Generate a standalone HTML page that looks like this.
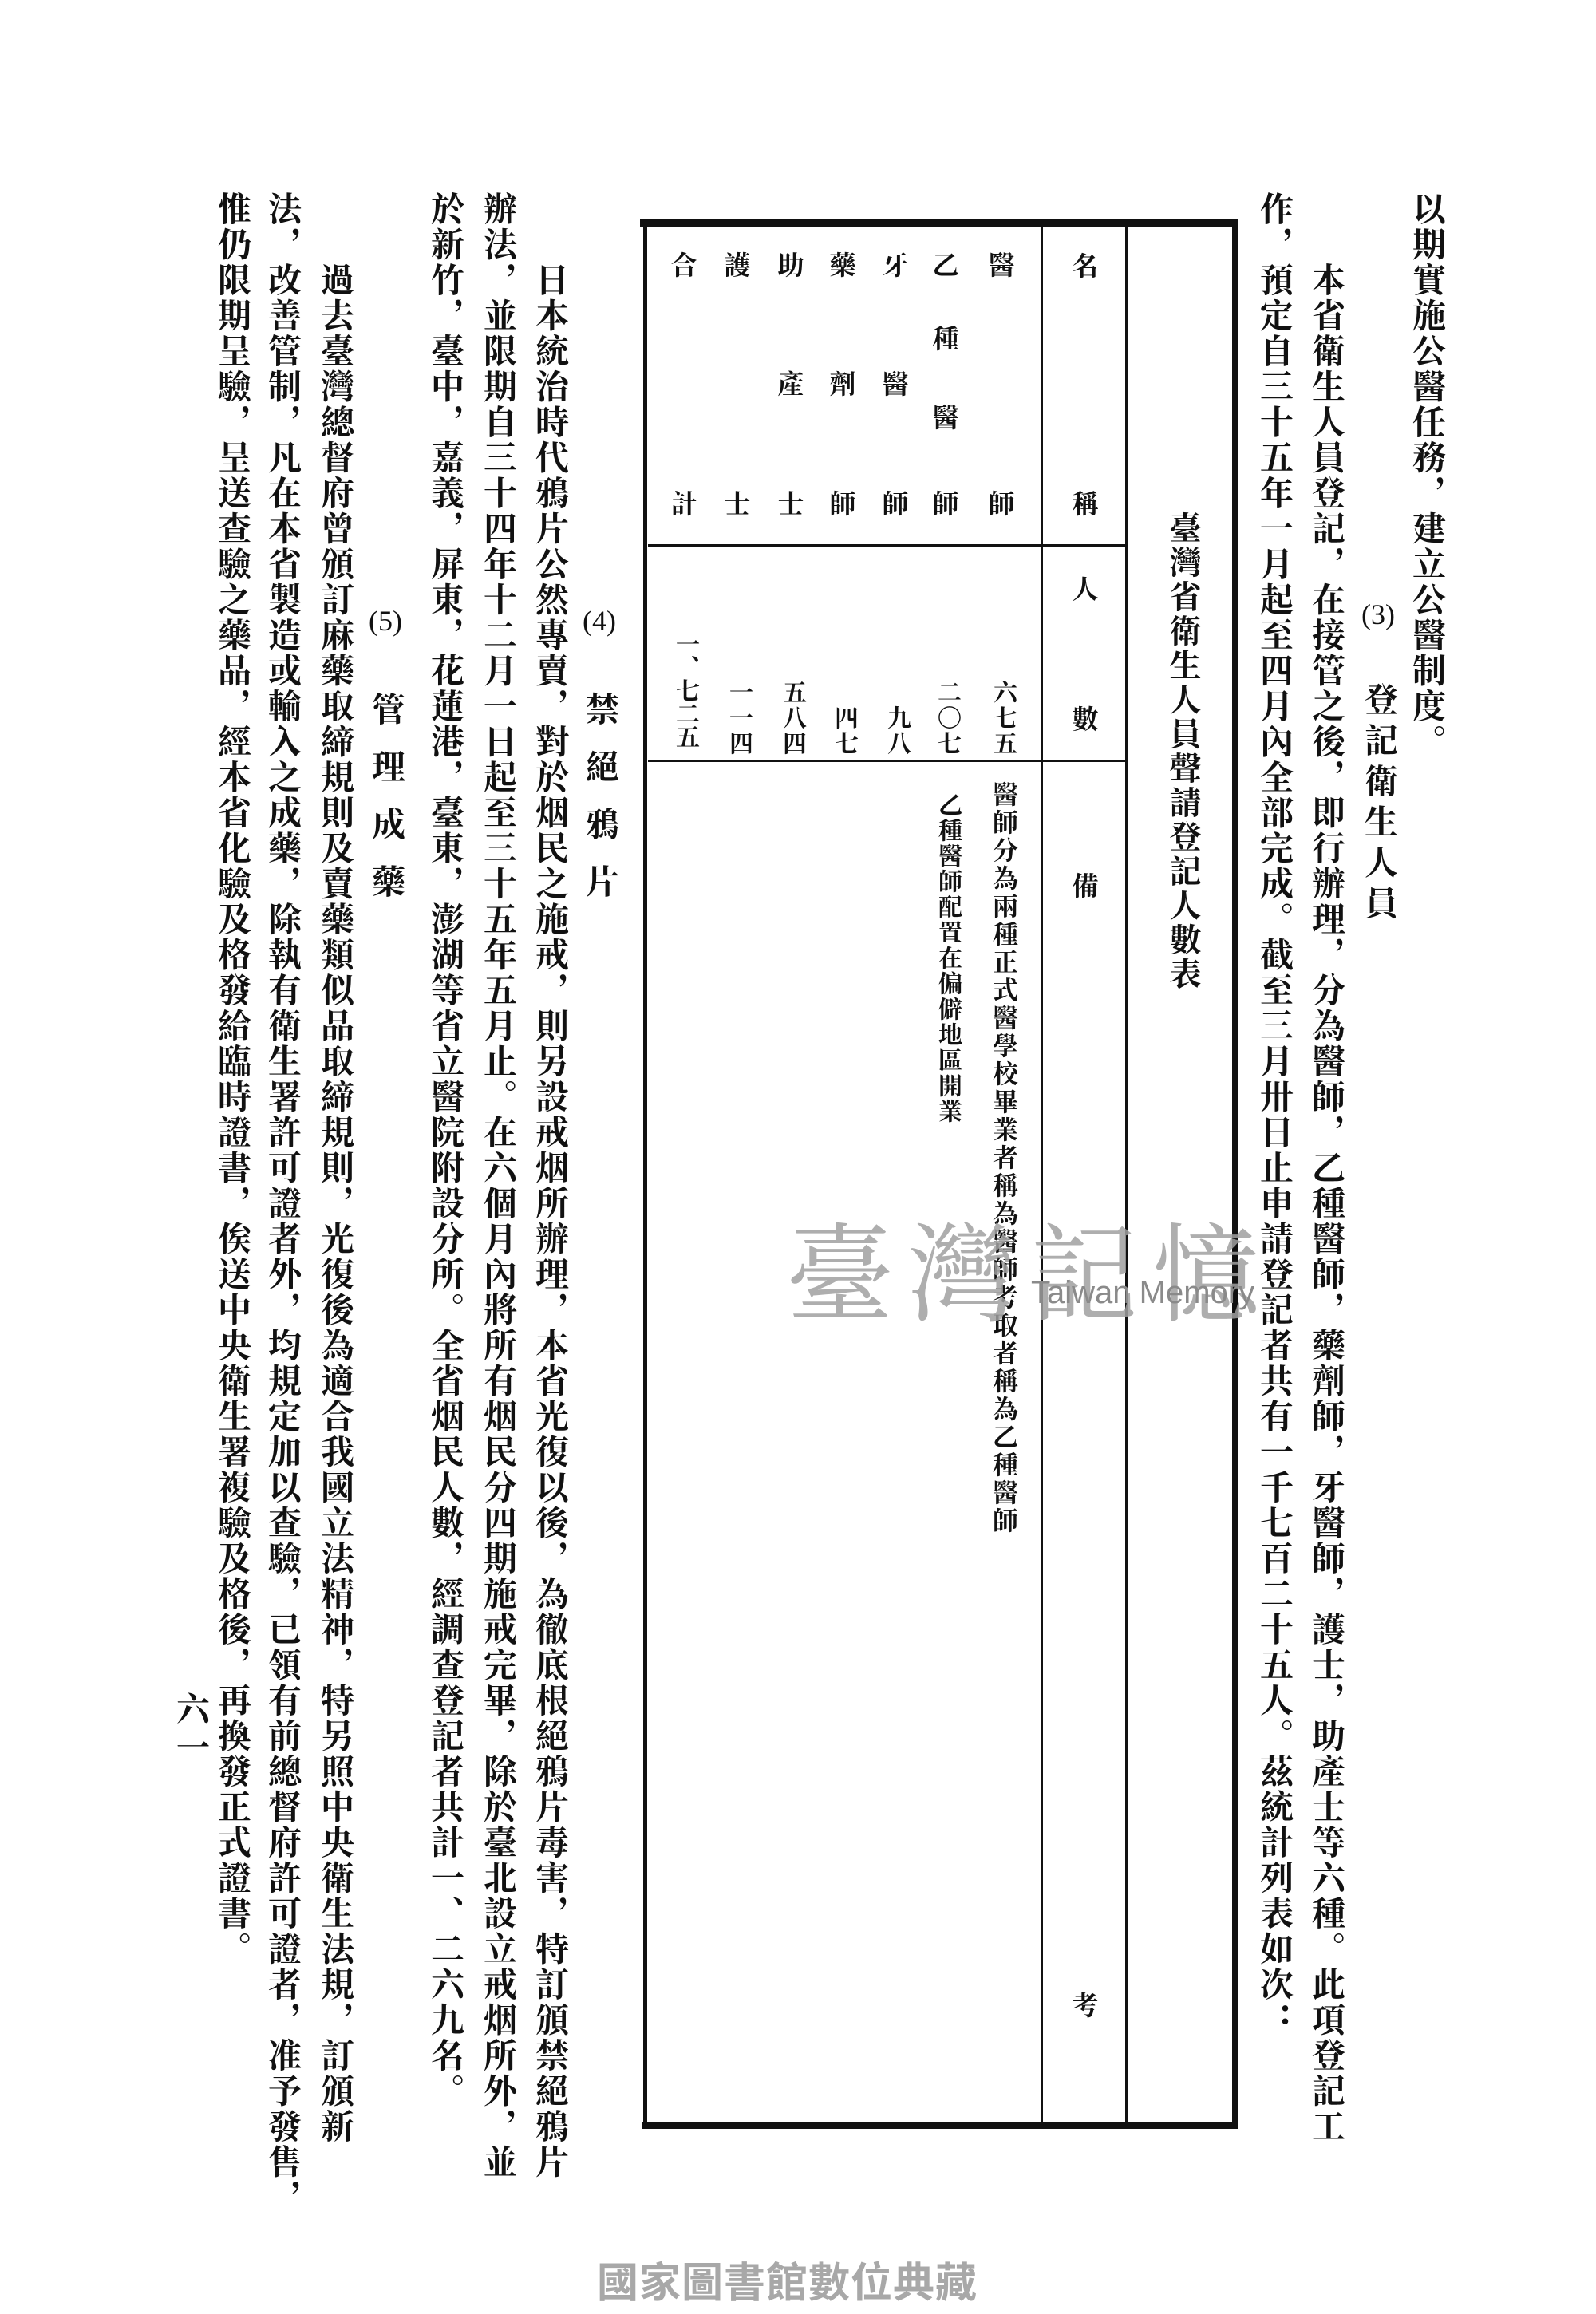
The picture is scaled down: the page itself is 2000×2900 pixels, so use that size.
<!DOCTYPE html>
<html><head><meta charset="utf-8">
<style>
html,body{margin:0;padding:0;background:#fff;}
body{width:2000px;height:2900px;position:relative;overflow:hidden;}
.v{position:absolute;writing-mode:vertical-rl;font-family:"Liberation Serif","Noto Serif CJK SC",serif;font-weight:bold;color:#111;white-space:nowrap;}
.b{font-size:42px;letter-spacing:2.5px;line-height:44px;width:44px;top:240px;}
.c{position:absolute;font-family:"Liberation Serif","Noto Serif CJK SC",serif;font-weight:bold;color:#111;font-size:33px;line-height:33px;width:34px;text-align:center;}
.ln{position:absolute;background:#111;}
.lab{position:absolute;width:60px;text-align:center;font-family:"Liberation Serif",serif;font-size:36px;line-height:40px;color:#111;}
</style></head><body>

<div class="v b" style="left:1765px;">以期實施公醫任務，建立公醫制度。</div>
<div class="lab" style="left:1697px;top:750px;">(3)</div>
<div class="v" style="left:1705px;top:855px;font-size:42px;letter-spacing:9px;line-height:44px;width:44px;">登記衛生人員</div>
<div class="v b" style="left:1639px;">　　本省衛生人員登記，在接管之後，即行辦理，分為醫師，乙種醫師，藥劑師，牙醫師，護士，助產士等六種。此項登記工</div>
<div class="v b" style="left:1574px;">作，預定自三十五年一月起至四月內全部完成。截至三月卅日止申請登記者共有一千七百二十五人。茲統計列表如次：</div>

<div class="ln" style="left:802px;top:275px;width:750px;height:9px;"></div>
<div class="ln" style="left:804px;top:2659px;width:748px;height:9px;"></div>
<div class="ln" style="left:806px;top:280px;width:5px;height:2386px;"></div>
<div class="ln" style="left:1544px;top:280px;width:8px;height:2386px;"></div>
<div class="ln" style="left:1304px;top:284px;width:3px;height:2376px;"></div>
<div class="ln" style="left:1410px;top:284px;width:3px;height:2376px;"></div>
<div class="ln" style="left:812px;top:682px;width:599px;height:3px;"></div>
<div class="ln" style="left:812px;top:952px;width:599px;height:3px;"></div>

<div class="v" style="left:1461px;top:641px;font-size:40px;letter-spacing:3px;line-height:42px;width:42px;">臺灣省衛生人員聲請登記人數表</div>

<div class="c" style="left:1343px;top:319px;">名</div>
<div class="c" style="left:1343px;top:617px;">稱</div>
<div class="c" style="left:1343px;top:724px;">人</div>
<div class="c" style="left:1343px;top:887px;">數</div>
<div class="c" style="left:1343px;top:1096px;">備</div>
<div class="c" style="left:1343px;top:2499px;">考</div>

<div class="c" style="left:1238px;top:318px;">醫</div>
<div class="c" style="left:1238px;top:617px;">師</div>
<div class="c" style="left:1168px;top:318px;">乙</div>
<div class="c" style="left:1168px;top:410px;">種</div>
<div class="c" style="left:1168px;top:509px;">醫</div>
<div class="c" style="left:1168px;top:617px;">師</div>
<div class="c" style="left:1105px;top:318px;">牙</div>
<div class="c" style="left:1105px;top:467px;">醫</div>
<div class="c" style="left:1105px;top:617px;">師</div>
<div class="c" style="left:1039px;top:318px;">藥</div>
<div class="c" style="left:1039px;top:467px;">劑</div>
<div class="c" style="left:1039px;top:617px;">師</div>
<div class="c" style="left:974px;top:318px;">助</div>
<div class="c" style="left:974px;top:467px;">產</div>
<div class="c" style="left:974px;top:617px;">士</div>
<div class="c" style="left:907px;top:318px;">護</div>
<div class="c" style="left:907px;top:617px;">士</div>
<div class="c" style="left:840px;top:318px;">合</div>
<div class="c" style="left:840px;top:617px;">計</div>

<div class="v" style="left:1240px;top:852px;font-size:30px;line-height:32px;width:32px;letter-spacing:2px;">六七五</div>
<div class="v" style="left:1170px;top:852px;font-size:30px;line-height:32px;width:32px;letter-spacing:2px;">二〇七</div>
<div class="v" style="left:1107px;top:884px;font-size:30px;line-height:32px;width:32px;letter-spacing:2px;">九八</div>
<div class="v" style="left:1041px;top:884px;font-size:30px;line-height:32px;width:32px;letter-spacing:2px;">四七</div>
<div class="v" style="left:976px;top:852px;font-size:30px;line-height:32px;width:32px;letter-spacing:2px;">五八四</div>
<div class="v" style="left:909px;top:852px;font-size:30px;line-height:32px;width:32px;letter-spacing:2px;">一一四</div>
<div class="v" style="left:842px;top:792px;font-size:30px;line-height:32px;width:32px;letter-spacing:-1px;">一、七二五</div>

<div class="v" style="left:1241px;top:979px;font-size:32px;letter-spacing:3px;line-height:34px;width:34px;">醫師分為兩種正式醫學校畢業者稱為醫師考取者稱為乙種醫師</div>
<div class="v" style="left:1171px;top:993px;font-size:30px;letter-spacing:2px;line-height:32px;width:32px;">乙種醫師配置在偏僻地區開業</div>

<div style="position:absolute;left:985px;top:1490px;font-family:'Noto Serif CJK SC',serif;font-size:135px;color:#a0a0a0;opacity:0.85;letter-spacing:18px;white-space:nowrap;">臺灣記憶</div>
<div style="position:absolute;left:1292px;top:1598px;font-family:'Liberation Sans',sans-serif;font-size:40px;color:#8a8a8a;white-space:nowrap;">Taiwan Memory</div>

<div class="lab" style="left:721px;top:758px;">(4)</div>
<div class="v" style="left:729px;top:867px;font-size:42px;letter-spacing:30px;line-height:44px;width:44px;">禁絕鴉片</div>
<div class="v b" style="left:666px;">　　日本統治時代鴉片公然專賣，對於烟民之施戒，則另設戒烟所辦理，本省光復以後，為徹底根絕鴉片毒害，特訂頒禁絕鴉片</div>
<div class="v b" style="left:601px;">辦法，並限期自三十四年十二月一日起至三十五年五月止。在六個月內將所有烟民分四期施戒完畢，除於臺北設立戒烟所外，並</div>
<div class="v b" style="left:535px;">於新竹，臺中，嘉義，屏東，花蓮港，臺東，澎湖等省立醫院附設分所。全省烟民人數，經調查登記者共計一、二六九名。</div>
<div class="lab" style="left:453px;top:758px;">(5)</div>
<div class="v" style="left:461px;top:867px;font-size:42px;letter-spacing:30px;line-height:44px;width:44px;">管理成藥</div>
<div class="v b" style="left:397px;">　　過去臺灣總督府曾頒訂麻藥取締規則及賣藥類似品取締規則，光復後為適合我國立法精神，特另照中央衛生法規，訂頒新</div>
<div class="v b" style="left:331px;">法，改善管制，凡在本省製造或輸入之成藥，除執有衛生署許可證者外，均規定加以查驗，已領有前總督府許可證者，准予發售，</div>
<div class="v b" style="left:268px;">惟仍限期呈驗，呈送查驗之藥品，經本省化驗及格發給臨時證書，俟送中央衛生署複驗及格後，再換發正式證書。</div>

<div class="v" style="left:216px;top:2120px;font-size:42px;letter-spacing:6px;line-height:44px;width:44px;">六一</div>

<div style="position:absolute;left:748px;top:2832px;width:510px;font-family:'Liberation Sans','Noto Sans CJK TC',sans-serif;font-weight:bold;font-size:52px;line-height:60px;color:#a8a8a8;white-space:nowrap;letter-spacing:1px;">國家圖書館數位典藏</div>

</body></html>
